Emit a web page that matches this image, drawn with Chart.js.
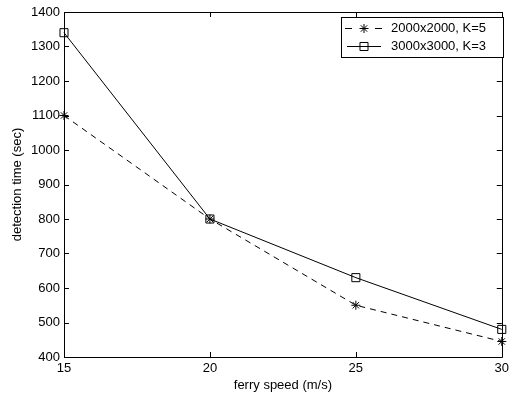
<!DOCTYPE html>
<html>
<head>
<meta charset="utf-8">
<script src="https://cdn.jsdelivr.net/npm/chart.js@4/dist/chart.umd.min.js"></script>
<style>
  html, body { margin: 0; padding: 0; background: #fff; }
  #wrap { width: 513px; height: 397px; }
</style>
</head>
<body>
<div id="wrap"><canvas id="c" width="513" height="397"></canvas></div>
<script>
// ferry speed (m/s)
const speeds = [15, 20, 25, 30];
const series1Label = '2000x2000, K=5';
const series1 = [1100, 800, 550, 445];
const series2Label = '3000x3000, K=3';
const series2 = [1340, 800, 630, 480];
const xTicks = [15, 20, 25, 30];
const yTicks = [400, 500, 600, 700, 800, 900, 1000, 1100, 1200, 1300, 1400];

const FONT = '"Liberation Sans", Arial, Helvetica, sans-serif';
const FSIZE = 13;

// box around the plot with matlab style inward ticks
const boxPlugin = {
    id: 'box',
    afterDatasetsDraw(chart) {
        const { ctx, chartArea: a, scales } = chart;
        const tl = 5;
        ctx.save();
        ctx.strokeStyle = '#000';
        ctx.lineWidth = 1;
        ctx.beginPath();
        ctx.rect(Math.round(a.left) + 0.5, Math.round(a.top) + 0.5,
                 Math.round(a.right - a.left), Math.round(a.bottom - a.top));
        xTicks.forEach(v => {
            const x = Math.round(scales.x.getPixelForValue(v)) + 0.5;
            ctx.moveTo(x, a.bottom); ctx.lineTo(x, a.bottom - tl);
            ctx.moveTo(x, a.top); ctx.lineTo(x, a.top + tl);
        });
        yTicks.forEach(v => {
            const y = Math.round(scales.y.getPixelForValue(v)) + 0.5;
            ctx.moveTo(a.left, y); ctx.lineTo(a.left + tl, y);
            ctx.moveTo(a.right, y); ctx.lineTo(a.right - tl, y);
        });
        ctx.stroke();
        ctx.restore();
    },
    afterDraw(chart) {
        // legend box, top right inside the axes
        const { ctx } = chart;
        const bx = 341, by = 17, bw = 162, bh = 40;
        ctx.save();
        ctx.fillStyle = '#fff';
        ctx.fillRect(bx, by, bw, bh);
        ctx.strokeStyle = '#000';
        ctx.lineWidth = 1;
        ctx.strokeRect(bx + 0.5, by + 0.5, bw, bh);
        ctx.font = FSIZE + 'px ' + FONT;
        ctx.textBaseline = 'middle';
        chart.data.datasets.forEach((ds, i) => {
            const y = by + 11 + i * 18 + 0.5;
            ctx.beginPath();
            if (ds.borderDash) {
                // two short dashes either side of the marker
                ctx.moveTo(345, y); ctx.lineTo(352, y);
                ctx.moveTo(375, y); ctx.lineTo(382, y);
            } else {
                ctx.moveTo(347, y); ctx.lineTo(381, y);
            }
            ctx.stroke();
            ctx.fillStyle = 'rgba(0,0,0,0)';
            Chart.helpers.drawPoint(ctx, {
                pointStyle: ds.pointStyle, radius: ds.pointRadius,
                rotation: 0, borderWidth: 1
            }, 364, y);
            ctx.fillStyle = '#000';
            ctx.fillText(ds.label, 391, y);
        });
        ctx.restore();
    }
};

new Chart(document.getElementById('c'), {
    type: 'line',
    data: {
        datasets: [
            {
                label: series1Label,
                data: speeds.map((s, i) => ({ x: s, y: series1[i] })),
                borderColor: '#000',
                borderWidth: 1,
                borderDash: [6, 5],
                pointStyle: 'star',
                pointRadius: 4.5,
                pointBorderColor: '#000',
                pointBackgroundColor: 'rgba(0,0,0,0)',
                pointBorderWidth: 1,
                fill: false,
                tension: 0,
                clip: false
            },
            {
                label: series2Label,
                data: speeds.map((s, i) => ({ x: s, y: series2[i] })),
                borderColor: '#000',
                borderWidth: 1,
                pointStyle: 'rect',
                pointRadius: 5.7,
                pointBorderColor: '#000',
                pointBackgroundColor: 'rgba(0,0,0,0)',
                pointBorderWidth: 1,
                fill: false,
                tension: 0,
                clip: false
            }
        ]
    },
    options: {
        responsive: false,
        animation: false,
        events: [],
        layout: { autoPadding: false, padding: { top: 12, right: 5, left: 0, bottom: 0 } },
        plugins: { legend: { display: false }, tooltip: { enabled: false } },
        scales: {
            x: {
                type: 'linear',
                min: 15, max: 30,
                afterBuildTicks: s => { s.ticks = xTicks.map(v => ({ value: v })); },
                afterFit: s => { s.height = 40; },
                grid: { display: false, drawTicks: false },
                border: { display: false },
                ticks: { color: '#000', padding: 4, maxRotation: 0,
                         callback: v => String(v), font: { family: FONT, size: FSIZE } },
                title: { display: true, text: 'ferry speed (m/s)', color: '#000',
                         padding: { top: 0, bottom: 4 }, font: { family: FONT, size: FSIZE } }
            },
            y: {
                min: 400, max: 1400,
                afterBuildTicks: s => { s.ticks = yTicks.map(v => ({ value: v })); },
                afterFit: s => { s.width = 64; },
                grid: { display: false, drawTicks: false },
                border: { display: false },
                ticks: { color: '#000', padding: 4, autoSkip: false,
                         callback: v => String(v), font: { family: FONT, size: FSIZE } },
                title: { display: true, text: 'detection time (sec)', color: '#000',
                         padding: { top: 10, bottom: 0 }, font: { family: FONT, size: FSIZE } }
            }
        }
    },
    plugins: [boxPlugin]
});
</script>
</body>
</html>
